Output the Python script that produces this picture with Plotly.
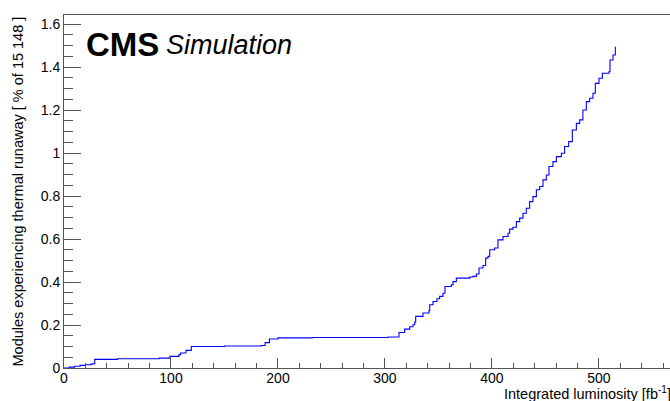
import plotly.graph_objects as go

# Integrated luminosity [fb^-1] at step corners
lumi = [0, 5, 10, 15, 20, 25, 27, 28.7, 50, 89, 99, 107.5, 109, 114, 119, 150,
        184.5, 188, 192, 200, 232, 303, 313.1, 318.4, 323.1, 326.2, 327.8, 328.7,
        335.5, 341.1, 341.8, 344.9, 348.6, 351.1, 354.2, 356.1, 362, 363.6, 366.7,
        379.2, 382.2, 385.4, 387.9, 391.6, 394.1, 396.3, 397.9, 402.5, 405.6, 410.3,
        415, 416.5, 419.6, 422.8, 425.9, 429, 432.1, 435.2, 438.3, 441.5, 444.6,
        447.7, 450.8, 453.3, 457, 460.2, 464.9, 467.9, 471.7, 475.1, 478.9, 482,
        485, 488.2, 491.3, 494.4, 496.6, 500, 503.2, 509.3, 510.3, 513.1, 515.3]
# Percentage of modules experiencing thermal runaway
frac = [0, 0.004, 0.008, 0.012, 0.015, 0.018, 0.020, 0.040, 0.043, 0.046, 0.054,
        0.062, 0.070, 0.082, 0.100, 0.102, 0.105, 0.118, 0.135, 0.140, 0.142, 0.144,
        0.165, 0.181, 0.192, 0.201, 0.214, 0.240, 0.256, 0.266, 0.294, 0.309, 0.322,
        0.333, 0.348, 0.379, 0.387, 0.402, 0.418, 0.423, 0.426, 0.437, 0.465, 0.477,
        0.511, 0.519, 0.550, 0.558, 0.596, 0.612, 0.627, 0.646, 0.655, 0.681, 0.697,
        0.720, 0.743, 0.774, 0.797, 0.829, 0.844, 0.875, 0.898, 0.937, 0.960, 0.983,
        0.999, 1.030, 1.053, 1.107, 1.138, 1.154, 1.200, 1.239, 1.255, 1.278, 1.324,
        1.348, 1.371, 1.378, 1.433, 1.456, 1.494]

y_title = "Modules experiencing thermal runaway [ % of 15 148 ]"
x_title = "Integrated luminosity [fb<sup>-1</sup>]"

FONT = "Liberation Sans, Arial, Helvetica, sans-serif"
AX = "#555555"

fig = go.Figure()
fig.add_trace(go.Scatter(x=lumi, y=frac, mode="lines", line=dict(color="#0000ff", width=1.1, shape="hv"),
                         hoverinfo="skip", showlegend=False))

L, R, T, B = 64, 0, 15, 33
W, H = 670, 401
pw = W - L - R

fig.update_layout(
    width=W, height=H,
    margin=dict(l=L, r=R, t=T, b=B, pad=0),
    paper_bgcolor="white", plot_bgcolor="white",
    font=dict(family=FONT, size=14, color="black"),
    xaxis=dict(range=[0, 566.4], dtick=100, tick0=0, ticks="inside", ticklen=10, tickwidth=1,
               tickcolor=AX, showline=True, linecolor=AX, linewidth=1, mirror=True,
               showgrid=False, zeroline=False, tickfont=dict(size=14), ticklabelstandoff=-3,
               minor=dict(dtick=20, ticks="inside", ticklen=5, tickcolor=AX, showgrid=False)),
    yaxis=dict(range=[0, 1.642], dtick=0.2, tick0=0, ticks="inside", ticklen=17, tickwidth=1,
               tickcolor=AX, showline=True, linecolor=AX, linewidth=1, mirror=False,
               showgrid=False, zeroline=False, tickfont=dict(size=14),
               minor=dict(dtick=0.05, ticks="inside", ticklen=9, tickcolor=AX, showgrid=False)),
)

def px_x(p):
    return (p - L) / pw

def px_y(p):
    return (H - B - p) / (H - T - B)

fig.add_annotation(text=y_title, xref="paper", yref="paper", x=px_x(17.5), y=px_y(15),
                   xanchor="center", yanchor="top", textangle=-90, showarrow=False,
                   font=dict(size=14.5, family=FONT))
fig.add_annotation(text=x_title, xref="paper", yref="paper", x=px_x(673), y=px_y(393),
                   xanchor="right", yanchor="middle", showarrow=False,
                   font=dict(size=14.5, family=FONT))
fig.add_annotation(text="<b>CMS</b>", xref="paper", yref="paper", x=px_x(84), y=px_y(44),
                   xanchor="left", yanchor="middle", showarrow=False,
                   font=dict(size=33, family=FONT))
fig.add_annotation(text="<i>Simulation</i>", xref="paper", yref="paper", x=px_x(164), y=px_y(45),
                   xanchor="left", yanchor="middle", showarrow=False,
                   font=dict(size=27, family=FONT))

fig.write_html("out.html", config={"displayModeBar": False},
               post_script="document.body.style.margin='0';document.body.style.padding='0';"
                           "document.body.style.overflow='hidden';")
